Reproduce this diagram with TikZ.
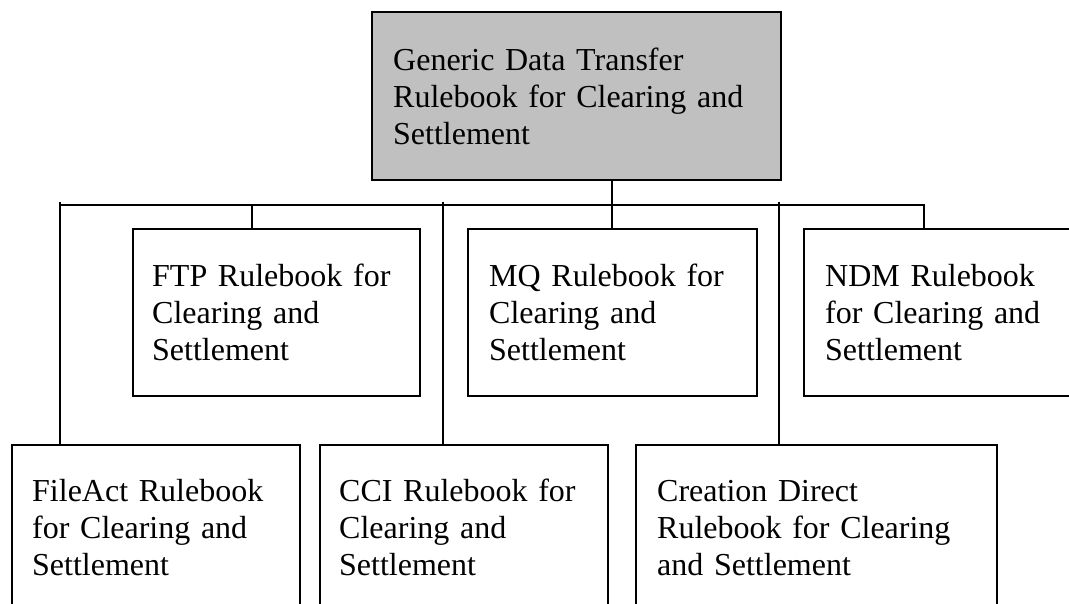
\documentclass[tikz,border=0pt]{standalone}
\usepackage{fontspec}
\setmainfont{Liberation Serif}
\usetikzlibrary{calc}
\definecolor{boxgray}{RGB}{192,192,192}
\tikzset{
  box/.style={draw=black, line width=1.5pt, rectangle, inner sep=0pt, anchor=north west},
  genbox/.style={box, fill=boxgray},
  lbl/.style={anchor=base west, inner sep=0pt, align=left, text width=360pt,
              font=\fontsize{32}{37}\selectfont},
  wire/.style={draw=black, line width=1.5pt, line cap=butt, line join=miter},
}
\begin{document}
\begin{tikzpicture}[x=1pt, y=-1pt]
\useasboundingbox (0,0) rectangle (1069,603);
\clip (0,0) rectangle (1069,603);
% boxes
\node[genbox, minimum width=409pt, minimum height=168pt] (gen) at (371,11) {};
\node[box, minimum width=287pt, minimum height=167pt] (ftp) at (132,228) {};
\node[box, minimum width=289pt, minimum height=167pt] (mq) at (467,228) {};
\node[box, minimum width=320pt, minimum height=167pt] (ndm) at (803,228) {};
\node[box, minimum width=288pt, minimum height=200pt] (fa) at (11,444) {};
\node[box, minimum width=288pt, minimum height=200pt] (cci) at (319,444) {};
\node[box, minimum width=361pt, minimum height=200pt] (cd) at (635,444) {};
% texts
\node[lbl] (genT) at ($(gen.north west)+(22,59)$) {Generic Data Transfer\\Rulebook for Clearing and\\Settlement};
\node[lbl] (ftpT) at ($(ftp.north west)+(20,58)$) {FTP Rulebook for\\Clearing and\\Settlement};
\node[lbl] (mqT) at ($(mq.north west)+(22,58)$) {MQ Rulebook for\\Clearing and\\Settlement};
\node[lbl] (ndmT) at ($(ndm.north west)+(22,58)$) {NDM Rulebook\\for Clearing and\\Settlement};
\node[lbl] (faT) at ($(fa.north west)+(21,57)$) {FileAct Rulebook\\for Clearing and\\Settlement};
\node[lbl] (cciT) at ($(cci.north west)+(20,57)$) {CCI Rulebook for\\Clearing and\\Settlement};
\node[lbl] (cdT) at ($(cd.north west)+(22,57)$) {Creation Direct\\Rulebook for Clearing\\and Settlement};
% bus coordinates
\coordinate (busL) at (60,205);
\coordinate (jFTP) at (252,205);
\coordinate (jCCI) at (443,205);
\coordinate (jGen) at (612,205);
\coordinate (jCD) at (779,205);
\coordinate (busR) at (924,205);
% connectors
\draw[wire] (jGen |- gen.south) -- (jGen);
\draw[wire] (busL) -- (busR) -- (busR |- ndm.north);
\draw[wire] (jFTP) -- (jFTP |- ftp.north);
\draw[wire] (jGen) -- (jGen |- mq.north);
\draw[wire] ($(busL)+(0,-3)$) -- (busL |- fa.north);
\draw[wire] ($(jCCI)+(0,-3)$) -- (jCCI |- cci.north);
\draw[wire] ($(jCD)+(0,-3)$) -- (jCD |- cd.north);
\end{tikzpicture}
\end{document}
